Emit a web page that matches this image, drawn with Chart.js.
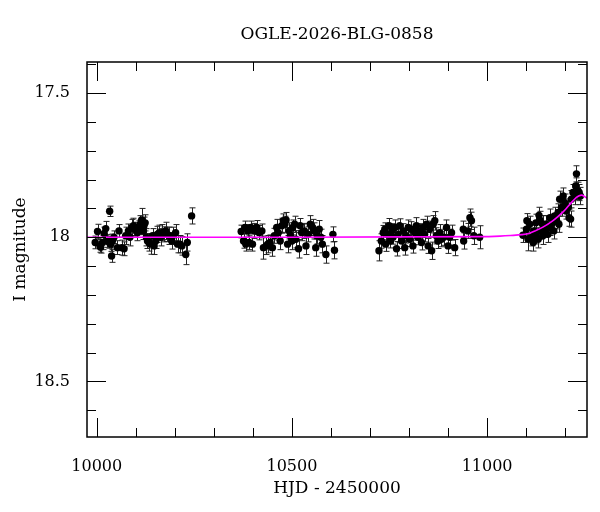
<!DOCTYPE html>
<html>
<head>
<meta charset="utf-8">
<script src="https://cdn.jsdelivr.net/npm/chart.js@4.4.1/dist/chart.umd.min.js"></script>
<style>
  html, body { margin: 0; padding: 0; background: #fff; }
</style>
</head>
<body>
<canvas id="lightCurve" width="600" height="512"></canvas>
<script>
// OGLE photometry: HJD-2450000, I mag, error
const hjd = [
  9996, 10002, 10008, 10010, 10015, 10019, 10023, 10027, 10032, 10033, 10036, 10038, 10040, 10044,
  10053, 10057, 10064, 10070, 10074, 10081, 10085, 10090, 10094, 10098, 10104, 10108, 10111, 10115,
  10119, 10121, 10124, 10127, 10130, 10134, 10138, 10143, 10147, 10151, 10155, 10160, 10164, 10168,
  10173, 10177, 10181, 10185, 10192, 10195, 10202, 10207, 10213, 10218, 10228, 10232, 10243,
  10370, 10376, 10380, 10382, 10387, 10390, 10395, 10399, 10404, 10410, 10416, 10423, 10427, 10434,
  10438, 10444, 10450, 10455, 10461, 10465, 10470, 10474, 10478, 10482, 10485, 10489, 10493, 10496,
  10500, 10502, 10507, 10510, 10517, 10521, 10525, 10532, 10536, 10542, 10547, 10553, 10557, 10561,
  10565, 10570, 10574, 10578, 10587, 10605, 10609,
  10723, 10729, 10734, 10738, 10740, 10744, 10749, 10752, 10756, 10759, 10764, 10768, 10772, 10776,
  10781, 10785, 10789, 10793, 10798, 10802, 10806, 10810, 10815, 10819, 10823, 10828, 10832, 10836,
  10840, 10845, 10849, 10853, 10858, 10862, 10866, 10870, 10874, 10879, 10883, 10889, 10896, 10900,
  10904, 10909, 10917, 10939, 10940, 10951, 10956, 10960, 10966, 10981,
  11092, 11101, 11102, 11105, 11109, 11114, 11118, 11120, 11125, 11126, 11131, 11133, 11135, 11137,
  11142, 11143, 11148, 11152, 11156, 11161, 11162, 11168, 11171, 11173, 11178, 11182, 11184, 11186,
  11191, 11195, 11199, 11202, 11208, 11210, 11214, 11216, 11220, 11225, 11227, 11229, 11233, 11236,
  11239
];
const imag = [
  18.018, 17.980, 18.030, 18.035, 18.018, 17.987, 17.970, 18.013, 18.018, 17.910, 18.024, 18.065, 18.013, 18.000,
  18.036, 17.978, 18.036, 18.040, 17.995, 17.978, 18.000, 17.966, 17.960, 17.972, 17.984, 17.966, 17.955, 17.940,
  17.978, 17.960, 17.950, 18.000, 18.013, 18.018, 18.024, 17.995, 18.030, 18.013, 17.990, 17.984, 18.000, 17.984,
  17.990, 17.978, 17.990, 17.995, 18.013, 17.995, 17.984, 18.024, 18.024, 18.030, 18.060, 18.018, 17.926,
  17.980, 18.013, 17.966, 18.024, 17.978, 18.018, 17.966, 18.024, 17.978, 17.966, 17.984, 17.978, 18.036, 18.030,
  18.024, 18.018, 18.036, 17.995, 17.966, 17.984, 18.013, 17.960, 17.943, 17.955, 17.940, 18.024, 17.978, 17.995,
  18.013, 17.966, 17.955, 18.007, 18.040, 17.960, 17.984, 17.978, 18.030, 17.990, 17.955, 17.966, 17.978, 18.036,
  17.995, 17.972, 18.000, 18.024, 18.060, 17.990, 18.045,
  18.047, 18.013, 17.984, 17.972, 18.024, 17.990, 17.960, 18.013, 17.978, 18.000, 17.966, 18.040, 17.990, 17.960,
  18.013, 17.978, 18.036, 17.995, 17.966, 18.007, 17.972, 18.030, 17.984, 17.960, 18.000, 17.978, 18.018, 17.966,
  17.990, 17.955, 18.030, 17.972, 18.047, 17.955, 17.943, 17.995, 18.013, 17.984, 18.007, 18.000, 17.966, 18.030,
  18.000, 17.984, 18.036, 17.972, 18.013, 17.978, 17.932, 17.943, 17.995, 18.000,
  17.993, 17.972, 17.943, 18.007, 17.955, 18.000, 18.018, 17.978, 17.950, 17.995, 18.007, 17.924, 17.940, 17.978,
  17.955, 17.995, 17.972, 17.955, 17.990, 17.932, 17.966, 17.950, 17.978, 17.926, 17.943, 17.914, 17.955, 17.868,
  17.897, 17.857, 17.880, 17.909, 17.897, 17.932, 17.937, 17.868, 17.845, 17.857, 17.822, 17.780, 17.839, 17.845,
  17.857
];
const ierr = [
  0.022, 0.025, 0.022, 0.020, 0.025, 0.022, 0.025, 0.022, 0.020, 0.018, 0.025, 0.022, 0.024, 0.022,
  0.024, 0.022, 0.026, 0.024, 0.030, 0.024, 0.030, 0.028, 0.026, 0.024, 0.028, 0.025, 0.030, 0.040,
  0.030, 0.030, 0.028, 0.030, 0.026, 0.030, 0.035, 0.025, 0.030, 0.026, 0.028, 0.026, 0.030, 0.028,
  0.026, 0.030, 0.025, 0.030, 0.028, 0.030, 0.028, 0.030, 0.030, 0.032, 0.035, 0.030, 0.028,
  0.022, 0.025, 0.022, 0.024, 0.022, 0.025, 0.022, 0.024, 0.026, 0.024, 0.025, 0.024, 0.040, 0.030,
  0.030, 0.026, 0.030, 0.026, 0.028, 0.026, 0.030, 0.026, 0.024, 0.028, 0.026, 0.030, 0.028, 0.026,
  0.030, 0.026, 0.028, 0.030, 0.032, 0.025, 0.028, 0.026, 0.030, 0.026, 0.030, 0.028, 0.028, 0.030,
  0.028, 0.030, 0.028, 0.030, 0.030, 0.026, 0.030,
  0.035, 0.025, 0.025, 0.022, 0.025, 0.024, 0.025, 0.024, 0.025, 0.024, 0.026, 0.025, 0.026, 0.024,
  0.026, 0.025, 0.026, 0.025, 0.026, 0.025, 0.026, 0.025, 0.026, 0.028, 0.026, 0.025, 0.026, 0.028,
  0.026, 0.028, 0.026, 0.028, 0.030, 0.030, 0.032, 0.028, 0.026, 0.028, 0.026, 0.028, 0.026, 0.026,
  0.028, 0.026, 0.028, 0.028, 0.028, 0.026, 0.030, 0.030, 0.030, 0.040,
  0.025, 0.030, 0.025, 0.040, 0.028, 0.030, 0.030, 0.028, 0.030, 0.028, 0.030, 0.028, 0.030, 0.028,
  0.030, 0.030, 0.028, 0.030, 0.028, 0.030, 0.028, 0.030, 0.028, 0.030, 0.028, 0.030, 0.028, 0.028,
  0.030, 0.028, 0.030, 0.028, 0.030, 0.030, 0.028, 0.030, 0.028, 0.030, 0.028, 0.028, 0.030, 0.028,
  0.030
];

// model curve (magenta)
const modelHjd = [9975, 10500, 10980, 11033, 11060, 11089, 11109, 11125, 11143, 11168, 11180, 11194, 11205, 11216, 11229, 11236, 11242, 11250, 11256];
const modelMag = [18.000, 18.000, 17.998, 17.996, 17.994, 17.991, 17.986, 17.977, 17.965, 17.943, 17.930, 17.913, 17.897, 17.880, 17.862, 17.856, 17.854, 17.859, 17.865];

// tick labels and tick marks
const xMajor = [10000, 10500, 11000];
const xMinor = [10100, 10200, 10300, 10400, 10600, 10700, 10800, 10900, 11100, 11200];
const yMajor = [17.5, 18, 18.5];
const yMinor = [17.4, 17.6, 17.7, 17.8, 17.9, 18.1, 18.2, 18.3, 18.4, 18.6];

const FONT = "'DejaVu Serif', 'Liberation Serif', serif";

// error bars under the points
const errorBars = {
    id: 'errorBars',
    beforeDatasetsDraw(chart) {
        const { ctx, scales: { x, y } } = chart;
        ctx.save();
        ctx.strokeStyle = '#222';
        ctx.lineWidth = 1;
        ctx.beginPath();
        hjd.forEach((t, i) => {
            const px = Math.round(x.getPixelForValue(t)) + 0.5;
            const y1 = y.getPixelForValue(imag[i] - ierr[i]);
            const y2 = y.getPixelForValue(imag[i] + ierr[i]);
            ctx.moveTo(px, y1); ctx.lineTo(px, y2);
            ctx.moveTo(px - 3, y1); ctx.lineTo(px + 3, y1);
            ctx.moveTo(px - 3, y2); ctx.lineTo(px + 3, y2);
        });
        ctx.stroke();
        ctx.restore();
    }
};

// frame with inward ticks on all four sides
const frame = {
    id: 'frame',
    afterDraw(chart) {
        const { ctx, chartArea: a, scales: { x, y } } = chart;
        ctx.save();
        ctx.strokeStyle = '#000';
        ctx.lineWidth = 1;
        ctx.beginPath();
        const xt = (vals, len) => vals.forEach(v => {
            const p = Math.round(x.getPixelForValue(v)) + 0.5;
            ctx.moveTo(p, a.bottom); ctx.lineTo(p, a.bottom - len);
            ctx.moveTo(p, a.top); ctx.lineTo(p, a.top + len);
        });
        const yt = (vals, len) => vals.forEach(v => {
            const p = Math.round(y.getPixelForValue(v)) + 0.5;
            ctx.moveTo(a.left, p); ctx.lineTo(a.left + len, p);
            ctx.moveTo(a.right, p); ctx.lineTo(a.right - len, p);
        });
        xt(xMajor, 19); xt(xMinor, 9);
        yt(yMajor, 19); yt(yMinor, 9);
        ctx.stroke();
        ctx.lineWidth = 1.5;
        ctx.strokeRect(a.left, a.top, a.right - a.left, a.bottom - a.top);
        ctx.restore();
    }
};

new Chart(document.getElementById('lightCurve'), {
    type: 'scatter',
    data: {
        datasets: [
            {
                label: 'model',
                type: 'line',
                data: modelHjd.map((t, i) => ({ x: t, y: modelMag[i] })),
                borderColor: '#ff00ff',
                borderWidth: 1.6,
                pointRadius: 0,
                cubicInterpolationMode: 'monotone',
                fill: false,
                order: 0
            },
            {
                label: 'OGLE I',
                data: hjd.map((t, i) => ({ x: t, y: imag[i] })),
                pointRadius: 3.7,
                pointBackgroundColor: '#000',
                pointBorderWidth: 0,
                order: 1
            }
        ]
    },
    options: {
        responsive: false,
        devicePixelRatio: 1,
        animation: false,
        layout: { padding: { left: 0, right: 13, top: 0, bottom: 0 } },
        plugins: { legend: { display: false }, tooltip: { enabled: false } },
        scales: {
            x: {
                type: 'linear',
                position: 'bottom',
                min: 9975,
                max: 11256,
                afterBuildTicks: s => { s.ticks = xMajor.map(v => ({ value: v })); },
                afterFit: s => { s.height = 75; },
                grid: { display: false },
                border: { display: false },
                ticks: { color: '#000', padding: 12, font: { family: FONT, size: 16 }, maxRotation: 0, callback: v => String(v) },
                title: { display: true, text: 'HJD - 2450000', color: '#000', padding: { top: 0, bottom: 13 }, font: { family: FONT, size: 17 } }
            },
            xTop: {
                type: 'linear',
                position: 'top',
                min: 9975,
                max: 11256,
                afterFit: s => { s.height = 62; },
                grid: { display: false },
                border: { display: false },
                ticks: { display: false },
                title: { display: true, text: 'OGLE-2026-BLG-0858', color: '#000', padding: { top: 24, bottom: 0 }, font: { family: FONT, size: 17 } }
            },
            y: {
                type: 'linear',
                reverse: true,
                min: 17.392,
                max: 18.693,
                afterBuildTicks: s => { s.ticks = yMajor.map(v => ({ value: v })); },
                afterFit: s => { s.width = 87; },
                grid: { display: false },
                border: { display: false },
                ticks: { color: '#000', padding: 9, font: { family: FONT, size: 16 }, callback: v => String(v) },
                title: { display: true, text: 'I magnitude', color: '#000', padding: { top: 10, bottom: 0 }, font: { family: FONT, size: 17 } }
            }
        }
    },
    plugins: [errorBars, frame]
});
</script>
</body>
</html>
